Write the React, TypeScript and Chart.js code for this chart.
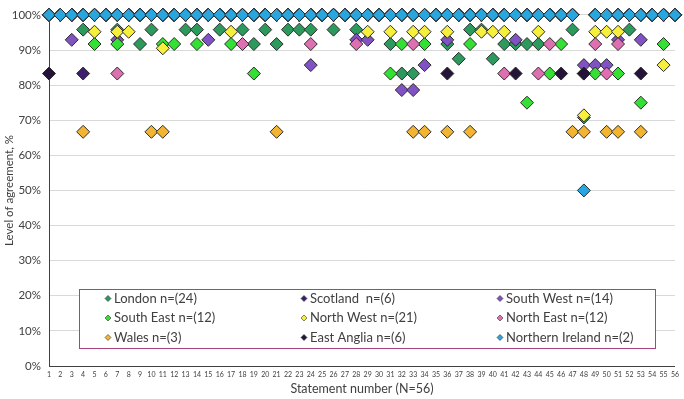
import React, { useEffect, useRef } from 'react';
import { Chart, registerables } from 'chart.js';

Chart.register(...registerables);

// Statement numbers 1..56
const statements = [
  1, 2, 3, 4, 5, 6, 7, 8, 9, 10, 11, 12, 13, 14, 15, 16, 17, 18, 19, 20,
  21, 22, 23, 24, 25, 26, 27, 28, 29, 30, 31, 32, 33, 34, 35, 36, 37, 38, 39, 40,
  41, 42, 43, 44, 45, 46, 47, 48, 49, 50, 51, 52, 53, 54, 55, 56,
];

// Level of agreement (%) per statement, by region
const london = [
  100, 100, 100, 95.8, 100, 100, 95.8, 100, 91.7, 95.8,
  100, 100, 95.8, 95.8, 100, 95.8, 100, 95.8, 91.7, 95.8,
  91.7, 95.8, 95.8, 95.8, 100, 95.8, 100, 95.8, 100, 100,
  91.7, 83.3, 83.3, 100, 100, 91.7, 87.5, 95.8, 95.8, 87.5,
  91.7, 91.7, 91.7, 91.7, 100, 100, 95.8, 70.8, 100, 100,
  100, 95.8, 100, 100, 100, 100,
];
const scotland = [
  100, 100, 100, 83.3, 100, 100, 100, 100, 100, 100,
  100, 100, 100, 100, 100, 100, 100, 100, 100, 100,
  100, 100, 100, 100, 100, 100, 100, 100, 100, 100,
  100, 100, 100, 100, 100, 100, 100, 100, 100, 100,
  100, 100, 100, 100, 100, 100, 100, 83.3, 100, 100,
  100, 100, 100, 100, 100, 100,
];
const southWest = [
  100, 100, 92.9, 100, 100, 100, 92.9, 100, 100, 100,
  100, 100, 100, 100, 92.9, 100, 100, 100, 100, 100,
  100, 100, 100, 85.7, 100, 100, 100, 92.9, 92.9, 100,
  100, 78.6, 78.6, 85.7, 100, 92.9, 100, 100, 100, 100,
  100, 92.9, 100, 100, 100, 100, 100, 85.7, 85.7, 85.7,
  92.9, 100, 92.9, 100, 100, 100,
];
const southEast = [
  100, 100, 100, 100, 91.7, 100, 91.7, 100, 100, 100,
  91.7, 91.7, 100, 91.7, 100, 100, 91.7, 100, 83.3, 100,
  100, 100, 100, 100, 100, 100, 100, 100, 100, 100,
  83.3, 91.7, 100, 91.7, 100, 100, 100, 91.7, 100, 100,
  100, 100, 75, 100, 83.3, 91.7, 100, 83.3, 83.3, 100,
  83.3, 100, 75, 100, 91.7, 100,
];
const northWest = [
  100, 100, 100, 100, 95.2, 100, 95.2, 95.2, 100, 100,
  90.5, 100, 100, 100, 100, 100, 95.2, 100, 100, 100,
  100, 100, 100, 100, 100, 100, 100, 100, 95.2, 100,
  95.2, 100, 95.2, 95.2, 100, 95.2, 100, 100, 95.2, 95.2,
  95.2, 100, 100, 95.2, 100, 100, 100, 71.4, 95.2, 95.2,
  95.2, 100, 100, 100, 85.7, 100,
];
const northEast = [
  100, 100, 100, 100, 100, 100, 83.3, 100, 100, 100,
  100, 100, 100, 100, 100, 100, 100, 91.7, 100, 100,
  100, 100, 100, 91.7, 100, 100, 100, 91.7, 100, 100,
  100, 100, 91.7, 100, 100, 100, 100, 100, 100, 100,
  83.3, 100, 100, 83.3, 91.7, 100, 100, 83.3, 91.7, 83.3,
  91.7, 100, 100, 100, 100, 100,
];
const wales = [
  100, 100, 100, 66.7, 100, 100, 100, 100, 100, 66.7,
  66.7, 100, 100, 100, 100, 100, 100, 100, 100, 100,
  66.7, 100, 100, 100, 100, 100, 100, 100, 100, 100,
  100, 100, 66.7, 66.7, 100, 66.7, 100, 66.7, 100, 100,
  100, 100, 100, 100, 100, 100, 66.7, 66.7, 100, 66.7,
  66.7, 100, 66.7, 100, 100, 100,
];
const eastAnglia = [
  83.3, 100, 100, 100, 100, 100, 100, 100, 100, 100,
  100, 100, 100, 100, 100, 100, 100, 100, 100, 100,
  100, 100, 100, 100, 100, 100, 100, 100, 100, 100,
  100, 100, 100, 100, 100, 83.3, 100, 100, 100, 100,
  100, 83.3, 100, 100, 100, 83.3, 100, 83.3, 100, 100,
  100, 100, 83.3, 100, 100, 100,
];
const northernIreland = [
  100, 100, 100, 100, 100, 100, 100, 100, 100, 100,
  100, 100, 100, 100, 100, 100, 100, 100, 100, 100,
  100, 100, 100, 100, 100, 100, 100, 100, 100, 100,
  100, 100, 100, 100, 100, 100, 100, 100, 100, 100,
  100, 100, 100, 100, 100, 100, 100, 50, 100, 100,
  100, 100, 100, 100, 100, 100,
];

const seriesNames = [
  'London n=(24)', 'Scotland  n=(6)', 'South West n=(14)',
  'South East n=(12)', 'North West n=(21)', 'North East n=(12)',
  'Wales n=(3)', 'East Anglia n=(6)', 'Northern Ireland n=(2)',
];
const seriesValues = [
  london, scotland, southWest, southEast, northWest, northEast, wales, eastAnglia, northernIreland,
];
const seriesColors = [
  '#2b9a5c', '#3e1d6e', '#8152c4', '#35e035', '#f6ef3c', '#de70b1', '#f3b531', '#25143a', '#2aa6de',
];

const yTicks = [0, 10, 20, 30, 40, 50, 60, 70, 80, 90, 100];

const FONT = 'Lato, "Open Sans", sans-serif';
const TEXT = '#404040';

const diamond = (ctx: CanvasRenderingContext2D, x: number, y: number, r: number, fill: string) => {
  ctx.beginPath();
  ctx.moveTo(x - r, y);
  ctx.lineTo(x, y - r);
  ctx.lineTo(x + r, y);
  ctx.lineTo(x, y + r);
  ctx.closePath();
  ctx.fillStyle = fill;
  ctx.fill();
  ctx.strokeStyle = '#333333';
  ctx.lineWidth = 0.6;
  ctx.stroke();
};

// Boxed three-column legend drawn inside the plot area
const boxedLegend = {
  id: 'boxedLegend',
  beforeDatasetsDraw(chart: any) {
    const { ctx, chartArea } = chart;
    const left = chartArea.left + 30;
    const top = chartArea.bottom - 77;
    const width = 576;
    const height = 59;
    ctx.save();
    ctx.fillStyle = '#ffffff';
    ctx.fillRect(left, top, width, height);
    ctx.strokeStyle = '#a8437f';
    ctx.lineWidth = 1;
    ctx.strokeRect(left + 0.5, top + 0.5, width, height);
    ctx.font = `13px ${FONT}`;
    ctx.textBaseline = 'middle';
    ctx.textAlign = 'left';
    seriesNames.forEach((name, i) => {
      const col = i % 3;
      const row = Math.floor(i / 3);
      const mx = left + 29 + col * 196;
      const my = top + 9.5 + row * 19.5;
      diamond(ctx, mx, my, 3, seriesColors[i]);
      ctx.fillStyle = TEXT;
      ctx.fillText(name, mx + 6, my);
    });
    ctx.restore();
  },
};

export default function App() {
  const canvasRef = useRef<HTMLCanvasElement | null>(null);

  useEffect(() => {
    if (!canvasRef.current) return;
    const datasets = seriesValues.map((vals, i) => ({
      label: seriesNames[i],
      data: statements.map((s, k) => ({ x: s, y: vals[k] })),
      backgroundColor: seriesColors[i],
      borderColor: '#2b2b2b',
      borderWidth: 1,
      pointStyle: 'rectRot' as const,
      pointRadius: 6.5,
      pointHoverRadius: 6.5,
      showLine: false,
      clip: false as const,
      order: seriesValues.length - 1 - i,
    }));

    const chart = new Chart(canvasRef.current, {
      type: 'scatter',
      data: { datasets },
      plugins: [boxedLegend],
      options: {
        animation: false,
        responsive: false,
        maintainAspectRatio: false,
        layout: { padding: { top: 8, right: 8, left: 2, bottom: 3 } },
        plugins: {
          legend: { display: false },
          tooltip: { enabled: false },
        },
        scales: {
          x: {
            type: 'linear',
            min: 1,
            max: 56,
            afterFit: (s: any) => { s.height = 30; },
            afterBuildTicks: (s: any) => { s.ticks = statements.map((v) => ({ value: v })); },
            grid: { display: false, drawTicks: false },
            border: { display: true, color: '#404040', width: 1 },
            ticks: {
              autoSkip: false,
              maxRotation: 0,
              padding: 5,
              color: TEXT,
              font: { family: FONT, size: 7 },
            },
            title: {
              display: true,
              text: 'Statement number (N=56)',
              color: TEXT,
              padding: { top: 0, bottom: 0 },
              font: { family: FONT, size: 12.5 },
            },
          },
          y: {
            min: 0,
            max: 100,
            afterFit: (s: any) => { s.width = 47; },
            afterBuildTicks: (s: any) => { s.ticks = yTicks.map((v) => ({ value: v })); },
            grid: { color: '#d9d9d9', lineWidth: 1, drawTicks: false },
            border: { display: true, color: '#404040', width: 1 },
            ticks: {
              padding: 8,
              color: TEXT,
              font: { family: FONT, size: 11.5 },
              callback: (v: any) => `${v}%`,
            },
            title: {
              display: true,
              text: 'Level of agreement, %',
              color: TEXT,
              padding: { top: 0, bottom: 0 },
              font: { family: FONT, size: 11.5 },
            },
          },
        },
      },
    });
    return () => chart.destroy();
  }, []);

  return (
    <div style={{ position: 'fixed', left: 0, top: 0, width: 684, height: 399, background: '#fff' }}>
      <canvas ref={canvasRef} width={684} height={399} style={{ width: 684, height: 399, display: 'block' }} />
    </div>
  );
}
